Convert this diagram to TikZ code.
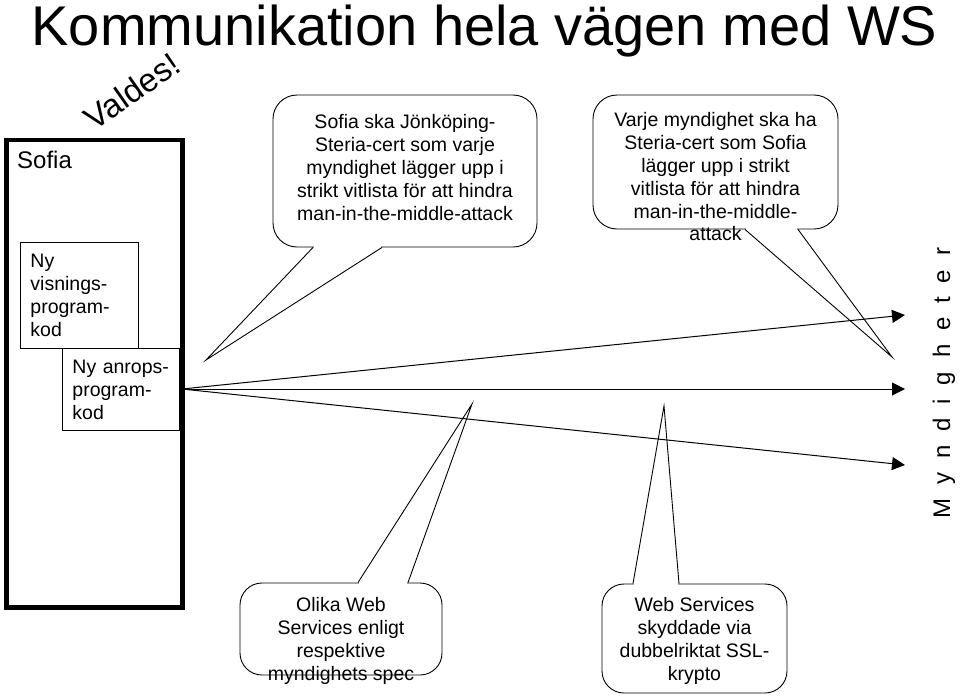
\documentclass[tikz,border=0pt]{standalone}
\usepackage{fontspec}
\setmainfont{Liberation Sans}
\usetikzlibrary{arrows.meta,positioning,calc}
\newcommand{\letgap}{\hspace{13.8pt}}

\begin{document}
\begin{tikzpicture}[x=1pt,y=-1pt,
every node/.style={inner sep=0pt},
sofiabox/.style={draw,line width=4.5pt,anchor=north west},
codebox/.style={draw,line width=0.9pt,anchor=north west,align=left,
inner xsep=10pt,font=\fontsize{19.5}{23}\selectfont},
balloon/.style={draw,line width=0.9pt,rounded corners=24pt},
note/.style={align=center,font=\fontsize{19.5}{22.8}\selectfont},
pointer/.style={line width=0.9pt},
gap/.style={white,line width=2.5pt},
ws/.style={line width=1pt,-{Triangle[length=13pt,width=13pt]}}]

\useasboundingbox (0,0) rectangle (960,696);

\node[anchor=base,font=\fontsize{56}{60}\selectfont] (title) at (484.5,45) {Kommunikation hela vägen med WS};
\node[rotate=35,font=\fontsize{33}{37}\selectfont] (valdes) at (132,91) {Valdes!};

\node[sofiabox,minimum width=176pt,minimum height=467.5pt] (sofia) at (4,137.5) {};
\node[anchor=base west,font=\fontsize{24}{28}\selectfont] (sofialabel) at (17,168) {Sofia};
\node[codebox,text width=98pt,minimum height=106pt] (visning) at (20,242) {Ny\\visnings-\\program-\\kod};
\node[codebox,text width=97pt,minimum height=82pt] (anrop) at (62,348) {Ny anrops-\\program-\\kod};

\coordinate (src) at (182,389);
\coordinate (m1) at (905,315);
\coordinate (m2) at (905,389);
\coordinate (m3) at (905,465);
\foreach \t in {m1,m2,m3}
  \draw[ws] (src) -- (\t);

\node[rotate=90,anchor=base,font=\fontsize{24}{28}\selectfont] (myndigheter) at (950,383)
  {M\letgap y\letgap n\letgap d\letgap i\letgap g\letgap h\letgap e\letgap t\letgap e\letgap r};

\node[balloon,minimum width=264pt,minimum height=152pt] (b1) at (405,171) {};
\coordinate (t1) at (206,360);
\draw[gap] ($(b1.south)+(-91,0)$) -- ($(b1.south)+(-24,0)$);
\draw[pointer] ($(b1.south)+(-92,0)$) -- (t1) -- ($(b1.south)+(-23,0)$);
\node[note,below=20pt of b1.north] (n1) {Sofia ska Jönköping-\\Steria-cert som varje\\myndighet lägger upp i\\strikt vitlista för att hindra\\man-in-the-middle-attack};

\node[balloon,minimum width=245pt,minimum height=134pt] (b2) at (715.5,162) {};
\coordinate (t2) at (892,357);
\draw[gap] ($(b2.south)+(30.5,0)$) -- ($(b2.south)+(81.5,0)$);
\draw[pointer] ($(b2.south)+(29.5,0)$) -- (t2) -- ($(b2.south)+(82.5,0)$);
\node[note,below=18pt of b2.north] (n2) {Varje myndighet ska ha\\Steria-cert som Sofia\\lägger upp i strikt\\vitlista för att hindra\\man-in-the-middle-\\attack};

\node[balloon,rounded corners=22pt,minimum width=202pt,minimum height=92pt] (b3) at (341,629) {};
\coordinate (t3) at (472,404);
\draw[gap] ($(b3.north)+(18,0)$) -- ($(b3.north)+(66,0)$);
\draw[pointer] ($(b3.north)+(17,0)$) -- (t3) -- ($(b3.north)+(67,0)$);
\node[note,below=15pt of b3.north] (n3) {Olika Web\\Services enligt\\respektive\\myndighets spec};

\node[balloon,rounded corners=22pt,minimum width=185pt,minimum height=109pt] (b4) at (694.5,638.5) {};
\coordinate (t4) at (664,406);
\draw[gap] ($(b4.north)+(-60.5,0)$) -- ($(b4.north)+(-16.5,0)$);
\draw[pointer] ($(b4.north)+(-61.5,0)$) -- (t4) -- ($(b4.north)+(-15.5,0)$);
\node[note,below=14pt of b4.north] (n4) {Web Services\\skyddade via\\dubbelriktat SSL-\\krypto};
\end{tikzpicture}
\end{document}
